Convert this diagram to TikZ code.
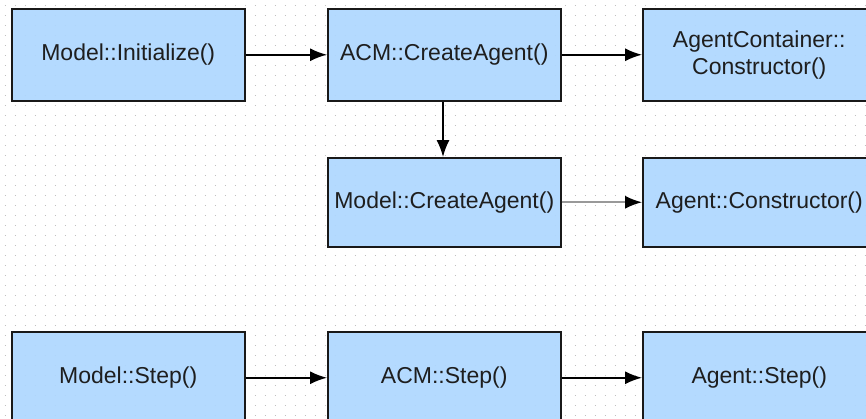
\documentclass[tikz,border=0pt]{standalone}
\usepackage{fontspec}
\setmainfont{Liberation Sans}
\usetikzlibrary{arrows.meta}
\definecolor{boxfill}{RGB}{172,214,255}
\definecolor{txt}{RGB}{30,30,30}
\tikzset{
  fn/.style={draw=black!90, line width=1.5pt, fill=boxfill, fill opacity=0.9, text opacity=1,
    minimum width=233pt, minimum height=92pt, inner sep=0pt, anchor=north west,
    text=txt, font=\fontsize{23}{27}\selectfont, align=center},
  call/.style={-{Latex[length=17pt,width=13pt]}, line width=1.6pt, draw=black},
  faint/.style={-{Latex[length=17pt,width=13pt,color=black]}, line width=1.6pt, draw=black!40}
}
\begin{document}
\begin{tikzpicture}[x=1pt,y=-1pt]
\useasboundingbox (0,0) rectangle (866,418);
\clip (0,0) rectangle (866,418);
\fill[white] (0,0) rectangle (866,418);
\foreach \yy in {5,15,...,415}
  \draw[black!25, line width=1pt, dash pattern=on 1pt off 9pt] (4.5,\yy) -- (866,\yy);
\node[fn] (init) at (11,8) {Model::Initialize()};
\node[fn] (acmc) at (327,8) {ACM::CreateAgent()};
\node[fn] (cont) at (642,8) {AgentContainer::\\Constructor()};
\node[fn, minimum height=89pt] (mcre) at (327,157) {Model::CreateAgent()};
\node[fn, minimum height=89pt] (acon) at (642,157) {Agent::Constructor()};
\node[fn] (mstep) at (11,331) {Model::Step()};
\node[fn] (astep) at (327,331) {ACM::Step()};
\node[fn] (gstep) at (642,331) {Agent::Step()};
\draw[call] (init) -- (acmc);
\draw[call] (acmc) -- (cont);
\draw[call] (acmc.south -| 443,0) -- (mcre.north -| 443,0);
\draw[faint] (mcre) -- (acon);
\draw[call] (mstep) -- (astep);
\draw[call] (astep) -- (gstep);
\end{tikzpicture}
\end{document}
